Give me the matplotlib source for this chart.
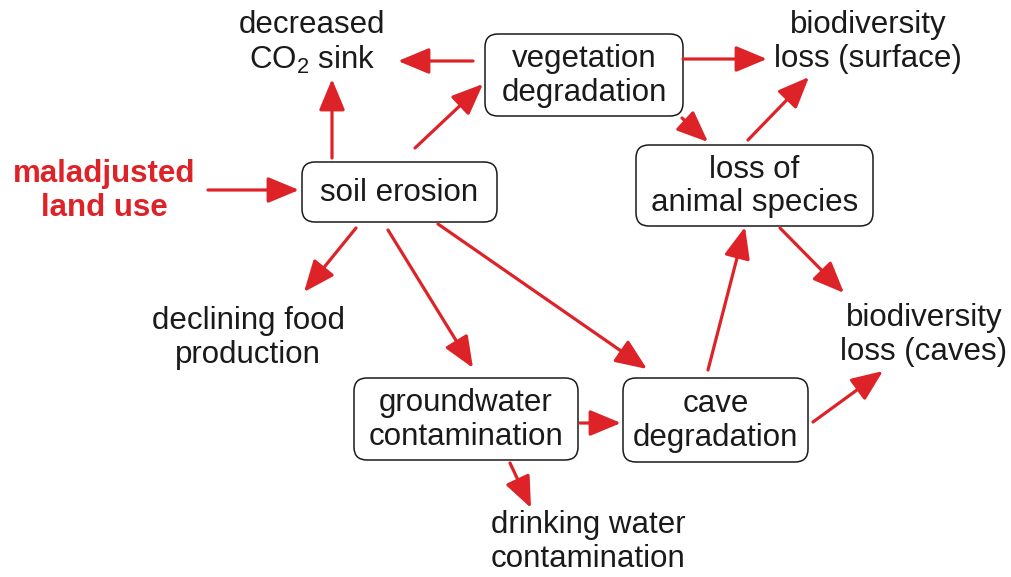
import matplotlib
matplotlib.use("Agg")
import matplotlib.pyplot as plt
from matplotlib.patches import FancyBboxPatch, FancyArrowPatch

plt.rcParams['font.family'] = ['Liberation Sans', 'DejaVu Sans']
plt.rcParams['mathtext.fontset'] = 'custom'
plt.rcParams['mathtext.rm'] = 'Liberation Sans'

RED = '#de2328'
INK = '#1a1a1a'

# boxed nodes: label, (x0, y0, x1, y1) in pixels
box_labels = ['vegetation\ndegradation', 'soil erosion', 'loss of\nanimal species',
              'groundwater\ncontamination', 'cave\ndegradation']
box_extents = [(485, 34, 683, 116), (302, 162, 497, 222), (636, 145, 873, 226),
               (354, 378, 578, 460), (623, 378, 808, 462)]

# free text nodes
text_labels = ['decreased\nCO$_2$ sink', 'biodiversity\nloss (surface)', 'declining food\nproduction',
               'biodiversity\nloss (caves)', 'drinking water\ncontamination']
text_pos = [(312, 43), (868, 42), (248, 338), (924, 335), (588, 542)]

# arrows: tail -> head
arrows = [
    ((473, 61), (398, 61)),
    ((683, 59), (767, 59)),
    ((332, 158), (332, 79)),
    ((415, 148), (483, 84)),
    ((208, 190), (299, 190)),
    ((682, 118), (708, 142)),
    ((748, 140), (809, 77)),
    ((356, 228), (304, 292)),
    ((388, 230), (473, 368)),
    ((438, 224), (647, 369)),
    ((708, 370), (745, 227)),
    ((780, 228), (844, 293)),
    ((580, 423), (621, 423)),
    ((813, 422), (883, 371)),
    ((510, 463), (531, 508)),
]

fig = plt.figure(figsize=(10.11, 5.77), dpi=100)
ax = fig.add_axes([0, 0, 1, 1])
ax.set_xlim(0, 1011)
ax.set_ylim(577, 0)
ax.axis('off')

for lab, (x0, y0, x1, y1) in zip(box_labels, box_extents):
    ax.add_patch(FancyBboxPatch((x0, y0), x1 - x0, y1 - y0,
                                boxstyle='round,pad=0,rounding_size=13',
                                fc='white', ec=INK, lw=1.1))
    ax.text((x0 + x1) / 2, (y0 + y1) / 2 + 1, lab, ha='center', va='center',
            fontsize=22.5, linespacing=1.15, color=INK)

for lab, (x, y) in zip(text_labels, text_pos):
    ax.text(x, y, lab, ha='center', va='center', fontsize=22.5,
            linespacing=1.15, color=INK)

ax.text(104, 191, 'maladjusted\nland use', ha='center', va='center', fontsize=22.5,
        fontweight='bold', linespacing=1.15, color=RED)

for (t, h) in arrows:
    ax.add_patch(FancyArrowPatch(t, h, arrowstyle='-|>,head_length=12,head_width=5',
                                 mutation_scale=1.6, color=RED, lw=2.3,
                                 shrinkA=0, shrinkB=0))

fig.savefig('out.png', dpi=100)
